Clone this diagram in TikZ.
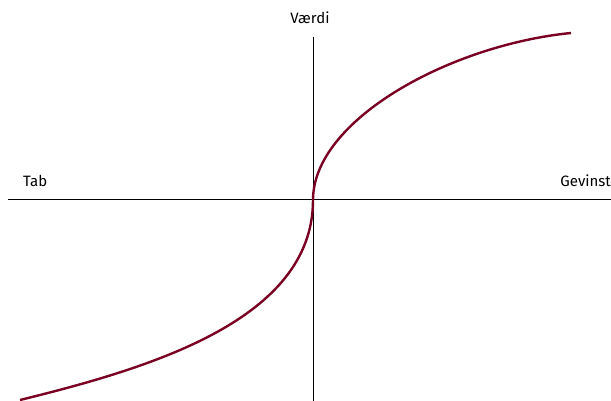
\documentclass[tikz,border=0pt]{standalone}
\usepackage{fontspec}
\setmainfont{Fira Sans}
\definecolor{curvecol}{HTML}{7A0022}
\begin{document}
\begin{tikzpicture}[x=1pt,y=-1pt,
  axis/.style={draw=black,line width=1pt},
  curve/.style={draw=curvecol,line width=2.4pt},
  lbl/.style={font=\fontsize{15}{17}\selectfont,inner sep=0pt}]
\useasboundingbox (0,0) rectangle (611,401);
\coordinate (xl) at (8,200);
\coordinate (xr) at (611,200);
\coordinate (yt) at (313,37);
\coordinate (yb) at (313,401);
\coordinate (o) at (313,200);
\coordinate (cs) at (20,400);
\coordinate (ce) at (571,33);
\draw[axis] (xl) -- (xr);
\draw[axis] (yt) -- (yb);
\node[lbl,anchor=base] (v) at (310,24) {Værdi};
\node[lbl,anchor=base west] (t) at (23,187) {Tab};
\node[lbl,anchor=base east] (g) at (611,187) {Gevinst};
\draw[curve] (cs) .. controls (150,368) and (313,320) .. (o)
  .. controls (313,120) and (450,45) .. (ce);
\end{tikzpicture}
\end{document}
